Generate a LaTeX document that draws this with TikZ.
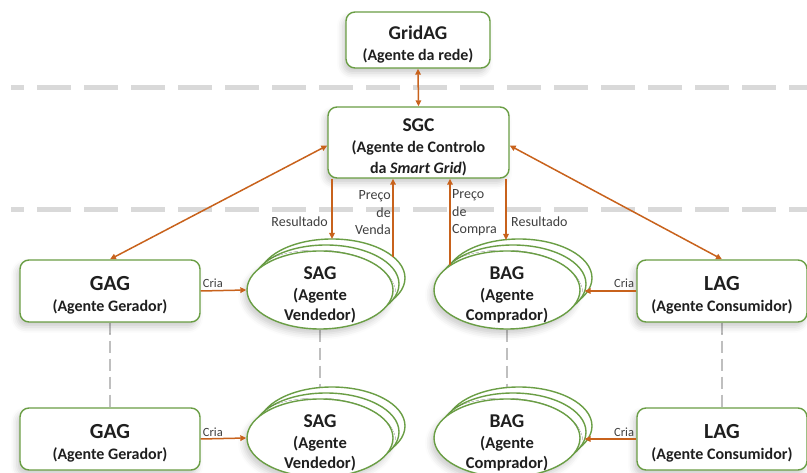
\documentclass[tikz,border=0pt]{standalone}
\usepackage{fontspec}
\setmainfont{Carlito}
\usetikzlibrary{arrows.meta,shapes.geometric,shadows.blur,calc}
\pgfdeclarelayer{bg}
\pgfsetlayers{bg,main}
\definecolor{agreen}{HTML}{6A9E45}
\definecolor{aorange}{HTML}{C8621C}
\definecolor{sepgray}{HTML}{D9D9D9}
\definecolor{linkgray}{HTML}{BFBFBF}
\definecolor{ink}{HTML}{1F1F1F}
\definecolor{note}{HTML}{3F3F3F}
% invisible strut that lowers the text block inside a box a little
\newcommand\boxlift{\rule{0pt}{22.5pt}}

\begin{document}
\begin{tikzpicture}[x=1pt,y=-1pt,
  softshadow/.style={blur shadow={shadow xshift=-3pt, shadow yshift=-5pt, shadow opacity=20, shadow blur radius=6pt}},
  agentbox/.style={draw=agreen, line width=1.4pt, rounded corners=9pt, fill=white,
    align=center, inner sep=0pt, text=ink, softshadow,
    font=\fontsize{16}{21}\selectfont\bfseries},
  agentoval/.style={draw=agreen, line width=1.4pt, fill=white, ellipse,
    minimum width=146pt, minimum height=78pt, inner sep=0pt},
  ovaltext/.style={align=center, inner sep=0pt, text=ink,
    font=\fontsize{16.5}{20.5}\selectfont\bfseries},
  flow/.style={draw=aorange, line width=1.5pt, arrows={-Triangle[length=6pt,width=5.5pt]}},
  flowboth/.style={flow, arrows={Triangle[length=6pt,width=5.5pt]-Triangle[length=6pt,width=5.5pt]}},
  tier/.style={draw=sepgray, line width=5pt, dash pattern=on 34pt off 13pt, dash phase=21pt},
  link/.style={draw=linkgray, line width=2pt, dash pattern=on 12pt off 6pt},
  lbl/.style={inner sep=0pt, text=note, font=\fontsize{14}{17.5}\selectfont},
  crialbl/.style={inner sep=0pt, text=note, font=\fontsize{12.5}{14}\selectfont},
]
\useasboundingbox (0,0) rectangle (807,473);

% tier separators
\draw[tier] (11,88) -- (807,88);
\draw[tier] (11,210) -- (807,210);

% grid and control agents
\node[agentbox, minimum width=144pt, minimum height=56pt] (grid) at (418,40)
  {\boxlift{\fontsize{19.5}{21}\selectfont GridAG}\\(Agente da rede)};
\node[agentbox, minimum width=181pt, minimum height=71pt] (sgc) at (418.5,142.5)
  {\boxlift{\fontsize{19.5}{21}\selectfont SGC}\\(Agente de Controlo\\da \textit{Smart Grid})};

% generators and consumers, two rows
\foreach \r/\yy in {1/291, 2/439} {
  \node[agentbox, minimum width=180pt, minimum height=62pt] (gag\r) at (110,\yy)
    {\boxlift{\fontsize{21.5}{21}\selectfont GAG}\\(Agente Gerador)};
  \node[agentbox, minimum width=170pt, minimum height=62pt] (lag\r) at (722,\yy)
    {\boxlift{\fontsize{21.5}{21}\selectfont LAG}\\(Agente Consumidor)};
}

% stacked seller and buyer agents
\foreach \r/\yy in {1/290, 2/438} {
  \node[agentoval] (sag\r c) at (332,\yy-12) {};
  \node[agentoval] (sag\r b) at (326,\yy-6) {};
  \node[agentoval, softshadow] (sag\r) at (320,\yy) {};
  \node[ovaltext] (sag\r t) at (320,\yy+5)
    {{\fontsize{19.5}{20}\selectfont SAG}\\(Agente\\Vendedor)};
  \node[agentoval] (bag\r c) at (519,\yy-12) {};
  \node[agentoval] (bag\r b) at (513,\yy-6) {};
  \node[agentoval, softshadow] (bag\r) at (507,\yy) {};
  \node[ovaltext] (bag\r t) at (507,\yy+5)
    {{\fontsize{19.5}{20}\selectfont BAG}\\(Agente\\Comprador)};
}

% dashed links between the two rows, kept beneath the shapes
\begin{pgfonlayer}{bg}
  \draw[link] (gag1.south) -- (gag2.north);
  \draw[link] (sag1.south) -- (sag2.north);
  \draw[link] (bag1.south) -- (bag2.north);
  \draw[link] (lag1.south) -- (lag2.north);
\end{pgfonlayer}

% arrows between grid, control and the market agents
\draw[flowboth] (grid.south) -- (sgc.north);
\draw[flowboth] ($(sgc.west)+(0,3)$) -- (gag1.north);
\draw[flowboth] ($(sgc.east)+(0,3)$) -- (lag1.north);

\coordinate (sellres) at ($(sag1c.center)+(0,-39)$);
\coordinate (sellprice) at ($(sag1c.center)+(61,-21)$);
\coordinate (buyprice) at ($(bag1.center)+(-57,-25)$);
\coordinate (buyres) at ($(bag1c.center)+(-13,-38)$);

\draw[flow] (sgc.south -| sellres) -- (sellres);
\draw[flow] (sellprice) -- (sgc.south -| sellprice);
\draw[flow] (buyprice) -- (sgc.south -| buyprice);
\draw[flow] (sgc.south -| buyres) -- (buyres);

\node[lbl, anchor=east] (resl) at (328,222) {Resultado};
\node[lbl, anchor=east, align=right] (venda) at (391,213) {Preço\\de\\Venda};
\node[lbl, anchor=west, align=left] (compra) at (452,213) {Preço\\de\\Compra};
\node[lbl, anchor=west] (resr) at (511,222) {Resultado};

% creation arrows
\foreach \r in {1,2} {
  \coordinate (buyin\r) at ($(bag\r b.center)+(71.5,7)$);
  \draw[flow] (gag\r.east) -- (sag\r.west);
  \draw[flow] (lag\r.west) -- (buyin\r);
  \node[crialbl, anchor=base west] (criag\r) at ($(gag\r.east)+(2,-3)$) {Cria};
  \node[crialbl, anchor=base east] (crial\r) at ($(lag\r.west)+(-2,-3)$) {Cria};
}
\end{tikzpicture}
\end{document}
